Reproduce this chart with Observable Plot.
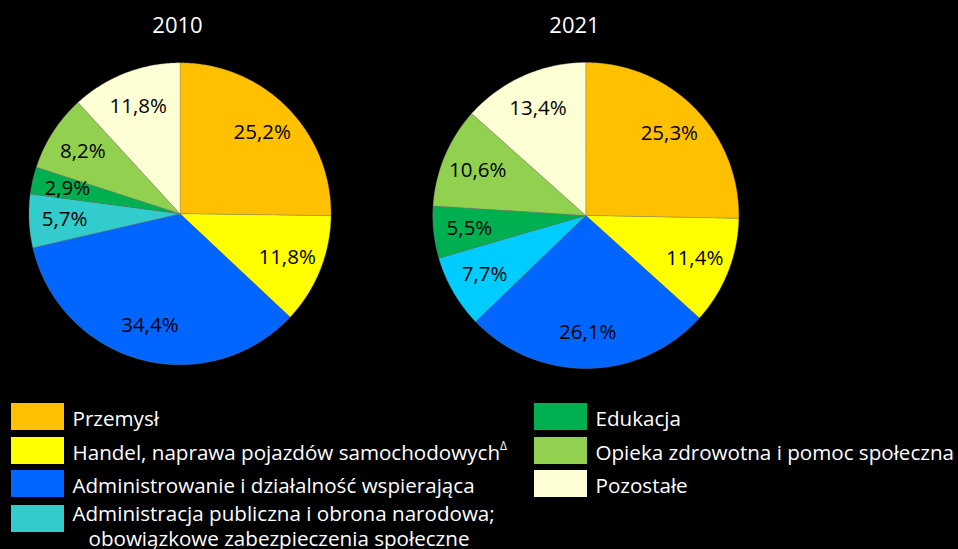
<!DOCTYPE html>
<html>
<head>
<meta charset="utf-8">
<script src="https://cdn.jsdelivr.net/npm/d3@7"></script>
<script src="https://cdn.jsdelivr.net/npm/@observablehq/plot@0.6"></script>
<style>
html, body { margin: 0; padding: 0; background: #000; }
#chart svg { display: block; }
</style>
</head>
<body>
<div id="chart"></div>
<script>
// ---- data ----
const categories = [
  "Przemysł",
  "Handel, naprawa pojazdów samochodowych",
  "Administrowanie i działalność wspierająca",
  "Administracja publiczna i obrona narodowa; obowiązkowe zabezpieczenia społeczne",
  "Edukacja",
  "Opieka zdrowotna i pomoc społeczna",
  "Pozostałe"
];
const years = ["2010", "2021"];
const values2010 = [25.2, 11.8, 34.4, 5.7, 2.9, 8.2, 11.8];
const values2021 = [25.3, 11.4, 26.1, 7.7, 5.5, 10.6, 13.4];

// ---- styles ----
const colors2010 = ["#FFC000", "#FFFF00", "#0066FF", "#33CCCC", "#00B050", "#92D050", "#FFFFD5"];
const colors2021 = ["#FFC000", "#FFFF00", "#0066FF", "#00CCFF", "#00B050", "#92D050", "#FFFFD5"];
const legendColors = colors2010;

// ---- layout ----
const W = 958, H = 549;
const pies = [
  {year: years[0], values: values2010, colors: colors2010, cx: 179.5, cy: 213.3, r: 151, tx: 177},
  {year: years[1], values: values2021, colors: colors2021, cx: 585.3, cy: 215, r: 153, tx: 574}
];

const slicePts = [];
const labels = [];
for (const p of pies) {
  const total = d3.sum(p.values);
  let acc = 0;
  p.values.forEach((v, i) => {
    const a0 = acc / total * 2 * Math.PI;
    acc += v;
    const a1 = acc / total * 2 * Math.PI;
    const key = p.year + "-" + i;
    const color = p.colors[i];
    slicePts.push({key, x: p.cx, y: p.cy, color});
    const n = Math.max(2, Math.ceil((a1 - a0) / (Math.PI / 360)));
    for (let k = 0; k <= n; k++) {
      const a = a0 + (a1 - a0) * k / n;
      slicePts.push({key, x: p.cx + p.r * Math.sin(a), y: p.cy - p.r * Math.cos(a), color});
    }
    slicePts.push({key, x: p.cx, y: p.cy, color});
    const am = (a0 + a1) / 2;
    const lr = p.r * 0.765;
    labels.push({x: p.cx + lr * Math.sin(am), y: p.cy - lr * Math.cos(am),
                 text: v.toFixed(1).replace(".", ",") + "%"});
  });
}

// legend layout
const rowTops = [403, 437, 470, 505];
const legendItems = categories.map((c, i) => {
  const col = i < 4 ? 0 : 1;
  const row = i < 4 ? i : i - 4;
  const x1 = col === 0 ? 11 : 534;
  const y1 = rowTops[row];
  return {name: c, color: legendColors[i], x1, x2: x1 + 53, y1, y2: y1 + 27};
});
const legendLines = [];
legendItems.forEach(it => {
  const parts = it.name.split("; ");
  if (parts.length === 1) {
    legendLines.push({x: it.x1 + 61, y: it.y1 + 16, text: it.name});
  } else {
    legendLines.push({x: it.x1 + 61, y: it.y1 + 9, text: parts[0] + ";"});
    legendLines.push({x: it.x1 + 77, y: it.y1 + 34, text: parts[1]});
  }
});

const chart = Plot.plot({
  width: W,
  height: H,
  margin: 0,
  x: {type: "identity", axis: null},
  y: {type: "identity", axis: null},
  color: {type: "identity"},
  style: {background: "#000", fontFamily: "'Open Sans', sans-serif"},
  marks: [
    Plot.line(slicePts, {x: "x", y: "y", z: "key", fill: "color", stroke: "#808080",
                         strokeWidth: 0.5, strokeOpacity: 0.7, curve: "linear"}),
    Plot.text(labels, {x: "x", y: "y", text: "text", fill: "#000", fontSize: 20.5}),
    Plot.text(pies, {x: "tx", y: () => 25, text: "year", fill: "#fff", fontSize: 22}),
    Plot.rect(legendItems, {x1: "x1", x2: "x2", y1: "y1", y2: "y2", fill: "color"}),
    Plot.text(legendLines, {x: "x", y: "y", text: "text", fill: "#fff", fontSize: 20.6, textAnchor: "start"})
  ]
});

chart.querySelectorAll("text").forEach(t => {
  if (t.textContent.includes("samochodowych")) {
    const ts = document.createElementNS("http://www.w3.org/2000/svg", "tspan");
    ts.setAttribute("dy", "-10");
    ts.setAttribute("font-size", "12");
    ts.textContent = "Δ";
    t.appendChild(ts);
  }
});

document.getElementById("chart").appendChild(chart);
</script>
</body>
</html>
